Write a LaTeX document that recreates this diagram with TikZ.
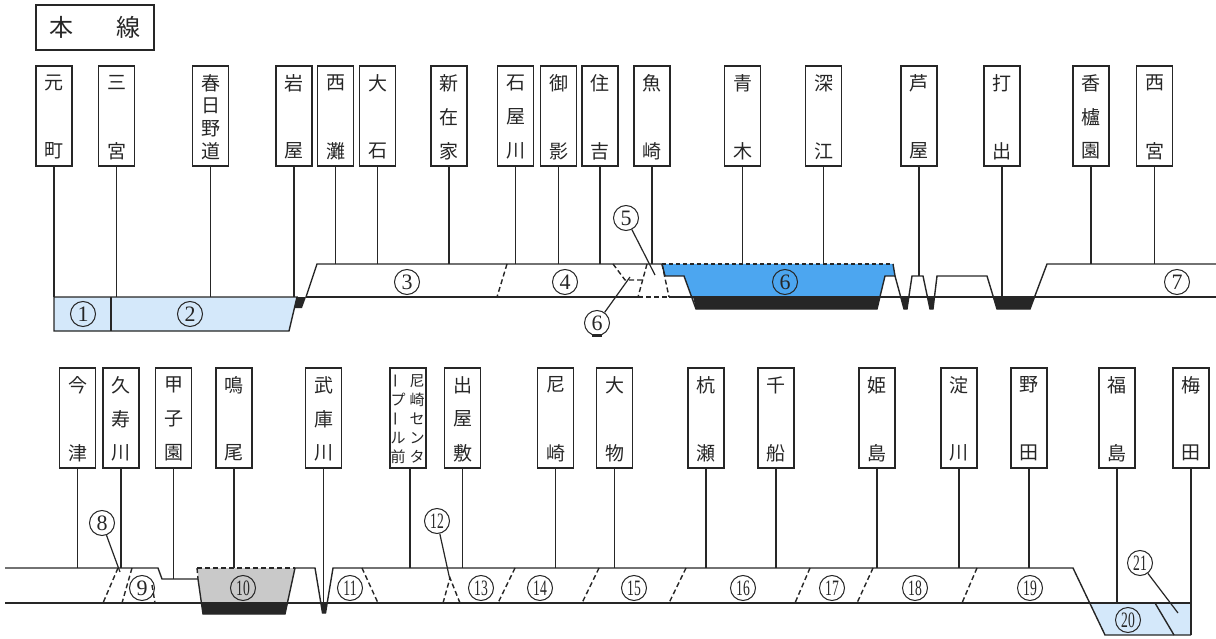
\documentclass[tikz,border=0pt]{standalone}
\usepackage{fontspec}
\newfontfamily\jp{Noto Sans CJK JP}
\newfontfamily\numf{Liberation Serif}
\definecolor{ink}{HTML}{262626}
\definecolor{lblue}{HTML}{D4E8FA}
\definecolor{mblue}{HTML}{4CA6F0}
\definecolor{lgray}{HTML}{C9C9C9}
\tikzset{
  ln/.style={draw=ink, line width=1.4pt, line join=miter},
  dsh/.style={draw=ink, line width=1.4pt, dash pattern=on 5pt off 3pt},
  stbox/.style={draw=ink, line width=1.5pt, minimum width=36pt, minimum height=100pt, inner sep=0pt},
  chs/.style={font=\jp\fontsize{19}{19}\selectfont, inner sep=0pt, text=ink},
  chsm/.style={font=\jp\fontsize{15}{15}\selectfont, inner sep=0pt, text=ink},
  cn/.style={circle, draw=ink, line width=1pt, minimum size=25pt, inner sep=0pt, text=ink, font=\numf\fontsize{22}{22}\selectfont},
  ldr/.style={draw=ink, line width=1.2pt}
}
\newcommand\stn[5]{%
  \node[stbox] (#1) at (#2,#3+50) {};
  \foreach \s [count=\i] in {#5} {\node[chs] at (#2,{#3+17+(\i-1)*68/(#4-1)}) {\s};}
}
\newcommand\tw[1]{\scalebox{0.62}[1]{#1}}
\begin{document}
\begin{tikzpicture}[x=1pt,y=-1pt]
\useasboundingbox (0,0) rectangle (1216,639);
% title
\node[draw=ink, line width=1.5pt, minimum width=118pt, minimum height=45pt, inner sep=0pt,
      font=\jp\fontsize{24}{24}\selectfont, text=ink] (title) at (95,27.5) {本\hspace{43pt}線};
% reference levels
\coordinate (L1) at (0,297);
\coordinate (L2) at (0,264);
\coordinate (L3) at (0,276);
\coordinate (B1) at (0,568);
\coordinate (B2) at (0,579);
\coordinate (B3) at (0,612);
\coordinate (B4) at (0,603);
\coordinate (B5) at (0,635);
% ---------------- top stations
\stn{moto}{54}{66}{2}{元,町}
\stn{sanno}{116.5}{66}{2}{三,宮}
\stn{kasu}{210.5}{66}{4}{春,日,野,道}
\stn{iwaya}{294}{66}{2}{岩,屋}
\stn{nada}{335.5}{66}{2}{西,灘}
\stn{ooishi}{377.5}{66}{2}{大,石}
\stn{shinz}{449}{66}{3}{新,在,家}
\stn{ishiy}{515.5}{66}{3}{石,屋,川}
\stn{mikage}{558.5}{66}{2}{御,影}
\stn{sumi}{600}{66}{2}{住,吉}
\stn{uoz}{652}{66}{2}{魚,崎}
\stn{ougi}{742.5}{66}{2}{青,木}
\stn{fuka}{823.5}{66}{2}{深,江}
\stn{ashiya}{919}{66}{2}{芦,屋}
\stn{uchide}{1002}{66}{2}{打,出}
\stn{kouro}{1091}{66}{3}{香,櫨,園}
\stn{nishimiya}{1154.5}{66}{2}{西,宮}
% ---------------- top profile
\fill[lblue] (54,297) -- (297,297) -- (289,331) -- (54,331) -- cycle;
\fill[mblue] (662,264) -- (665,276) -- (684,276) -- (691.6,297) -- (880,297) -- (885,276) -- (895,276) -- (893,264) -- cycle;
\fill[ink] (693,297) -- (880,297) -- (877,309) -- (696,309) -- cycle;
\begin{scope}
  \clip (860,297) rectangle (1216,330);
  \fill[ink] (877,309) -- (885,276) -- (895,276) -- (904,309) -- (907,309) -- (912,276) -- (923,276) -- (930,309) -- (933,309) -- (937,276) -- (987,276) -- (997,309) -- (1030,309) -- (1047,264) -- (1216,264) -- (1216,285) -- (877,285) -- cycle;
\end{scope}
\fill[ink] (297,297) -- (306,297) -- (302,308) -- (294.5,308) -- cycle;
\draw[ln] (54,297) -- (297,297) -- (289,331) -- (54,331) -- cycle;
\draw[ln] (111,297) -- (111,331);
\draw[ln] (306,297) -- (317,264) -- (662,264);
\draw[ln] (306,297) -- (638,297);
\draw[dsh] (638,297) -- (669,297);
\draw[ln] (669,297) -- (1216,297);
\draw[ln] (662,264) -- (665,276) -- (684,276) -- (696,309) -- (877,309) -- (885,276) -- (895,276) -- (904,309) -- (907,309) -- (912,276) -- (923,276) -- (930,309) -- (933,309) -- (937,276) -- (987,276) -- (997,309) -- (1030,309) -- (1047,264) -- (1216,264);
\draw[ln] (893,264) -- (895,276);
\draw[draw=ink, line width=1.4pt, dash pattern=on 4pt off 3pt] (662,264) -- (893,264);
\draw[dsh] (507,264) -- (497,297);
\draw[dsh] (613,264) -- (625,280) -- (642,280);
\draw[dsh] (647,264) -- (638,297);
\draw[dsh] (662,264) -- (669,297);
% top stems
\foreach \n/\l in {moto/L1,sanno/L1,kasu/L1,iwaya/L1,nada/L2,ooishi/L2,shinz/L2,ishiy/L2,mikage/L2,sumi/L2,uoz/L2,ougi/L2,fuka/L2,ashiya/L3,uchide/L1,kouro/L2,nishimiya/L2}
  \draw[ln] (\n.south) -- (\n.south |- \l);
% top labels
\node[cn] (c1) at (83,314) {1};
\node[cn] (c2) at (190,314) {2};
\node[cn] (c3) at (407,282) {3};
\node[cn] (c4) at (565,282) {4};
\node[cn] (c5) at (626,218) {5};
\node[cn] (c6a) at (597,323) {6};
\node[cn] (c6) at (785,282) {6};
\node[cn] (c7) at (1177,282) {7};
\coordinate (p5) at (655,275);
\coordinate (p6) at (630,277);
\draw[ldr] (c5) -- (p5);
\draw[ldr] (c6a) -- (p6);
\fill[ink] (592,334) rectangle (602,337);
% ---------------- bottom stations
\stn{imaz}{77.5}{368}{2}{今,津}
\stn{kuzu}{121}{368}{3}{久,寿,川}
\stn{kosh}{173.5}{368}{3}{甲,子,園}
\stn{naruo}{234}{368}{2}{鳴,尾}
\stn{muko}{323.5}{368}{3}{武,庫,川}
\node[stbox] (cpool) at (408,418) {};
\foreach \s [count=\i] in {尼,崎,セ,ン,タ} {\node[chsm] at (417,{381+(\i-1)*19}) {\s};}
\node[chsm, rotate=90] at (398,381) {ー};
\node[chsm] at (398,400) {プ};
\node[chsm, rotate=90] at (398,419) {ー};
\node[chsm] at (398,438) {ル};
\node[chsm] at (398,457) {前};
\stn{deya}{462.5}{368}{3}{出,屋,敷}
\stn{amag}{555.5}{368}{2}{尼,崎}
\stn{daimo}{614.5}{368}{2}{大,物}
\stn{kuise}{706}{368}{2}{杭,瀬}
\stn{chibu}{776}{368}{2}{千,船}
\stn{hime}{877}{368}{2}{姫,島}
\stn{yodo}{959}{368}{2}{淀,川}
\stn{noda}{1029}{368}{2}{野,田}
\stn{fuku}{1117}{368}{2}{福,島}
\stn{umeda}{1191}{368}{2}{梅,田}
% ---------------- bottom profile
\fill[lgray] (197,568) -- (295,568) -- (287.4,603) -- (201.4,603) -- cycle;
\fill[lblue] (1089.7,603) -- (1191,603) -- (1191,635) -- (1105,635) -- cycle;
\begin{scope}
  \clip (150,603) rectangle (360,630);
  \fill[ink] (198,579) -- (203,614) -- (285,614) -- (295,568) -- (315,568) -- (322.5,613) -- (325.5,613) -- (333,568) -- (345,568) -- (345,590) -- (198,590) -- cycle;
\end{scope}
\draw[ln] (5,568) -- (158,568) -- (162,579) -- (198,579);
\draw[dsh] (197,568) -- (295,568);
\draw[dsh] (197,568) -- (198,579);
\draw[ln] (198,579) -- (203,614) -- (285,614) -- (295,568) -- (315,568) -- (322.5,613) -- (325.5,613) -- (333,568) -- (1073,568) -- (1105,635) -- (1191,635);
\draw[ln] (5,603) -- (1191,603);
\draw[ln] (1155,603) -- (1174,635);
\draw[dsh] (118,568) -- (103,603);
\draw[dsh] (132,568) -- (122,603);
\draw[dsh] (152,585) -- (155,603);
\draw[dsh] (362,568) -- (378,603);
\draw[dsh] (443,603) -- (450,578) -- (460,603);
\draw[dsh] (515,568) -- (498,603);
\draw[dsh] (599,568) -- (582,603);
\draw[dsh] (686,568) -- (669,603);
\draw[dsh] (810,568) -- (795,603);
\draw[dsh] (873,568) -- (857,603);
\draw[dsh] (977,568) -- (962,603);
% bottom stems
\draw[ln] (cpool.south -| 410,0) -- (410,568);
\foreach \n/\l in {imaz/B1,kuzu/B1,kosh/B2,naruo/B1,muko/B3,deya/B1,amag/B1,daimo/B1,kuise/B1,chibu/B1,hime/B1,yodo/B1,noda/B1,fuku/B4,umeda/B5}
  \draw[ln] (\n.south) -- (\n.south |- \l);
% bottom labels
\node[cn] (c8) at (102,523) {8};
\node[cn] (c9) at (142,588) {9};
\node[cn] (c10) at (243,588) {\tw{10}};
\node[cn] (c11) at (350,588) {\tw{11}};
\node[cn] (c12) at (437,521) {\tw{12}};
\node[cn] (c13) at (481,588) {\tw{13}};
\node[cn] (c14) at (540,588) {\tw{14}};
\node[cn] (c15) at (634,588) {\tw{15}};
\node[cn] (c16) at (743,588) {\tw{16}};
\node[cn] (c17) at (832,588) {\tw{17}};
\node[cn] (c18) at (915,588) {\tw{18}};
\node[cn] (c19) at (1030,588) {\tw{19}};
\node[cn] (c20) at (1128,620) {\tw{20}};
\node[cn] (c21) at (1140,563) {\tw{21}};
\coordinate (p8) at (120,572);
\coordinate (p12) at (450,580);
\coordinate (p21) at (1178,613);
\draw[ldr] (c8) -- (p8);
\draw[ldr] (c12) -- (p12);
\draw[ldr] (c21) -- (p21);
\end{tikzpicture}
\end{document}
